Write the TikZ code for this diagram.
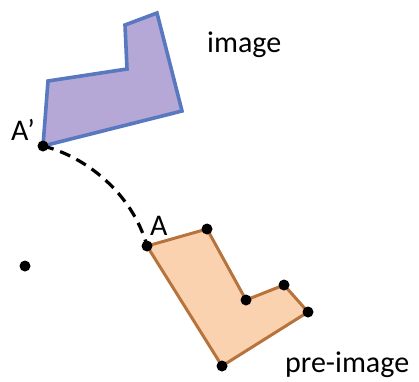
\documentclass[tikz,border=0pt]{standalone}
\usepackage{fontspec}
\setmainfont{Carlito}
\definecolor{pfill}{RGB}{182,168,214}
\definecolor{pdraw}{RGB}{88,120,192}
\definecolor{ofill}{RGB}{250,210,176}
\definecolor{odraw}{RGB}{183,115,60}
\begin{document}
\begin{tikzpicture}[x=1pt,y=-1pt,
  dot/.style={circle,fill=black,inner sep=0pt,minimum size=11pt},
  lbl/.style={font=\fontsize{30}{35}\selectfont,inner sep=0pt},
  imgpoly/.style={fill=pfill,draw=pdraw,line width=3.6pt,line join=miter},
  prepoly/.style={fill=ofill,draw=odraw,line width=3pt,line join=miter},
  rotpath/.style={line width=3.2pt,dash pattern=on 11pt off 7pt}]
\useasboundingbox (0,0) rectangle (419,381);
% image polygon
\coordinate (q1) at (43,146);
\coordinate (q2) at (48,81);
\coordinate (q3) at (127,69);
\coordinate (q4) at (125,25);
\coordinate (q5) at (157,13);
\coordinate (q6) at (182,111);
\draw[imgpoly] (q1) -- (q2) -- (q3) -- (q4) -- (q5) -- (q6) -- cycle;
% pre-image polygon
\coordinate (p1) at (147,246);
\coordinate (p2) at (207,229);
\coordinate (p3) at (246,300);
\coordinate (p4) at (284,285);
\coordinate (p5) at (308,312);
\coordinate (p6) at (222,366);
\draw[prepoly] (p1) -- (p2) -- (p3) -- (p4) -- (p5) -- (p6) -- cycle;
% center
\coordinate (c) at (25,266);
% arc
\draw[rotpath] (q1) .. controls (84,156) and (132,192) .. (p1);
% dots
\foreach \n in {q1,p1,p2,p3,p4,p5,p6,c} \node[dot] (d\n) at (\n) {};
% labels
\node[lbl,anchor=base west] (lAp) at (11,140) {A’};
\node[lbl,anchor=base west] (lA) at (150,235) {A};
\node[lbl,anchor=base west] (limg) at (207,52) {image};
\node[lbl,anchor=base west] (lpre) at (285,372) {pre-image};
\end{tikzpicture}
\end{document}
